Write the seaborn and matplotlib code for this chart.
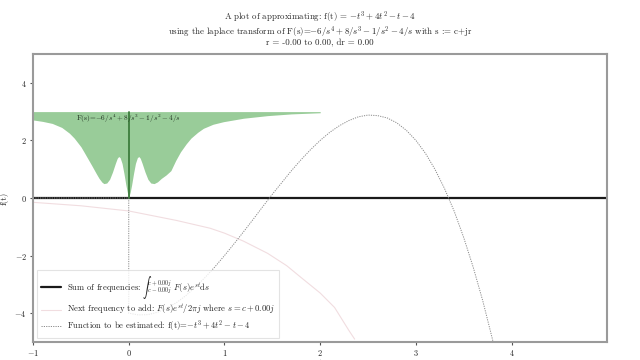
import matplotlib
matplotlib.use("Agg")
import matplotlib.pyplot as plt
import seaborn as sns
import pandas as pd

# ---- data ----
t_sum = [-1.0, 5.0]
sum_vals = [0.0, 0.0]

t_next = [-1.0, -0.5, 0.0, 0.5, 0.85, 1.0, 1.2, 1.45, 1.65, 1.8, 2.0, 2.15, 2.3, 2.36]
next_vals = [-0.15, -0.27, -0.45, -0.78, -1.05, -1.22, -1.5, -1.92, -2.35, -2.76,
             -3.3, -3.8, -4.6, -4.9]

t_func = [-1.0, 0.0, 0.0, 0.1, 0.2, 0.3, 0.4, 0.5, 0.6, 0.7, 0.8, 0.9, 1.0,
          1.1, 1.2, 1.3, 1.4, 1.5, 1.6, 1.7, 1.8, 1.9, 2.0, 2.1, 2.2, 2.3, 2.4,
          2.5, 2.6, 2.7, 2.8, 2.9, 3.0, 3.1, 3.2, 3.3, 3.4, 3.5, 3.6, 3.7, 3.8, 3.9]
func_vals = [0.0, 0.0, -4.0, -4.06, -4.05, -3.97, -3.82, -3.63, -3.38, -3.08,
             -2.75, -2.39, -2.0, -1.59, -1.17, -0.74, -0.30, 0.13, 0.54, 0.95,
             1.33, 1.68, 2.0, 2.28, 2.51, 2.69, 2.82, 2.88, 2.86, 2.78, 2.61,
             2.35, 2.0, 1.55, 0.99, 0.32, -0.46, -1.38, -2.42, -3.59, -4.91, -6.38]

t_F = [-1.0, -0.9, -0.8, -0.7, -0.62, -0.57, -0.5, -0.47, -0.43, -0.38, -0.34,
       -0.31, -0.28, -0.26, -0.23, -0.2, -0.17, -0.14, -0.12, -0.105, -0.09,
       -0.07, -0.05, -0.03, -0.015, 0.0, 0.015, 0.03, 0.05, 0.07, 0.09, 0.105,
       0.12, 0.14, 0.17, 0.2, 0.23, 0.265, 0.3, 0.34, 0.39, 0.44, 0.49, 0.54,
       0.6, 0.65, 0.72, 0.78, 0.88, 0.99, 1.2, 1.45, 1.7, 2.0]
F_vals = [2.71, 2.66, 2.59, 2.45, 2.25, 2.08, 1.78, 1.61, 1.38, 1.09, 0.85,
          0.68, 0.55, 0.5, 0.52, 0.65, 0.9, 1.2, 1.38, 1.44, 1.4,
          1.2, 0.85, 0.45, 0.2, 0.03, 0.2, 0.45, 0.85, 1.2, 1.4, 1.44,
          1.38, 1.2, 0.9, 0.65, 0.52, 0.5, 0.56, 0.68, 0.8, 0.95, 1.3, 1.6,
          1.88, 2.08, 2.28, 2.42, 2.56, 2.65, 2.77, 2.86, 2.92, 2.96]
F_top = 3.0

sns.set_theme(style="white")
plt.rcParams.update({
    "font.family": ["cmr10", "DejaVu Serif"],
    "mathtext.fontset": "cm",
    "axes.formatter.use_mathtext": True,
    "axes.unicode_minus": True,
    "axes.edgecolor": "#9a9a9a",
    "axes.linewidth": 1.5,
})

fig, ax = plt.subplots(figsize=(6.4, 3.6), dpi=100)
fig.subplots_adjust(left=0.0516, right=0.949, top=0.85, bottom=0.05)

df_sum = pd.DataFrame({"t": t_sum, "v": sum_vals})
df_next = pd.DataFrame({"t": t_next, "v": next_vals})
df_func = pd.DataFrame({"t": t_func, "v": func_vals})

sns.lineplot(data=df_sum, x="t", y="v", ax=ax, color="#1a1a1a", lw=1.6,
             sort=False, estimator=None,
             label=r"Sum of frequencies: $\int{}_{c-0.00j}^{c+0.00j}\ F(s)e^{st}\mathrm{d}s$")
sns.lineplot(data=df_next, x="t", y="v", ax=ax, color="#f1dde0", lw=0.8,
             sort=False, estimator=None,
             label=r"Next frequency to add: $F(s)e^{st}/2\pi j$ where $s=c+0.00j$")
sns.lineplot(data=df_func, x="t", y="v", ax=ax, color="#8a8a8a", lw=0.7,
             linestyle=(0, (1.2, 1.2)), sort=False, estimator=None,
             label=r"Function to be estimated: f(t)=$-t^3+4t^2-t-4$")

ax.fill_between(t_F, F_vals, F_top, color="green", alpha=0.4, lw=0)
ax.plot([0, 0], [0, F_top], color="#3d7d3d", lw=1.3)
ax.text(-0.55, 2.75, r"F(s)=$-6/s^4+8/s^3-1/s^2-4/s$", fontsize=5.3,
        color="#1f2f1f", va="center", ha="left")

ax.set_xlim(-1, 5)
ax.set_ylim(-5, 5)
ax.set_xticks([-1, 0, 1, 2, 3, 4])
ax.set_yticks([-4, -2, 0, 2, 4])
ax.tick_params(axis="both", labelsize=6, length=2.5, width=0.8, color="#555555",
               bottom=True, left=True, pad=2)
ax.set_ylabel("f(t)", fontsize=6.5, labelpad=4)
ax.set_xlabel("t", fontsize=6, labelpad=0)

ax.set_title("A plot of approximating: f(t) = $-t^3+4t^2-t-4$\n"
             "using the laplace transform of F(s)=$-6/s^4+8/s^3-1/s^2-4/s$ with s := c+jr\n"
             "r = -0.00 to 0.00, dr = 0.00",
             fontsize=6.4, linespacing=0.92, pad=6)

leg = ax.legend(loc="lower left", fontsize=6.2, frameon=True, handlelength=2.3,
                borderpad=0.4, labelspacing=0.25, fancybox=False)
leg.get_frame().set_edgecolor("#dddddd")
leg.get_frame().set_linewidth(0.8)

fig.savefig("out.png", dpi=100)
